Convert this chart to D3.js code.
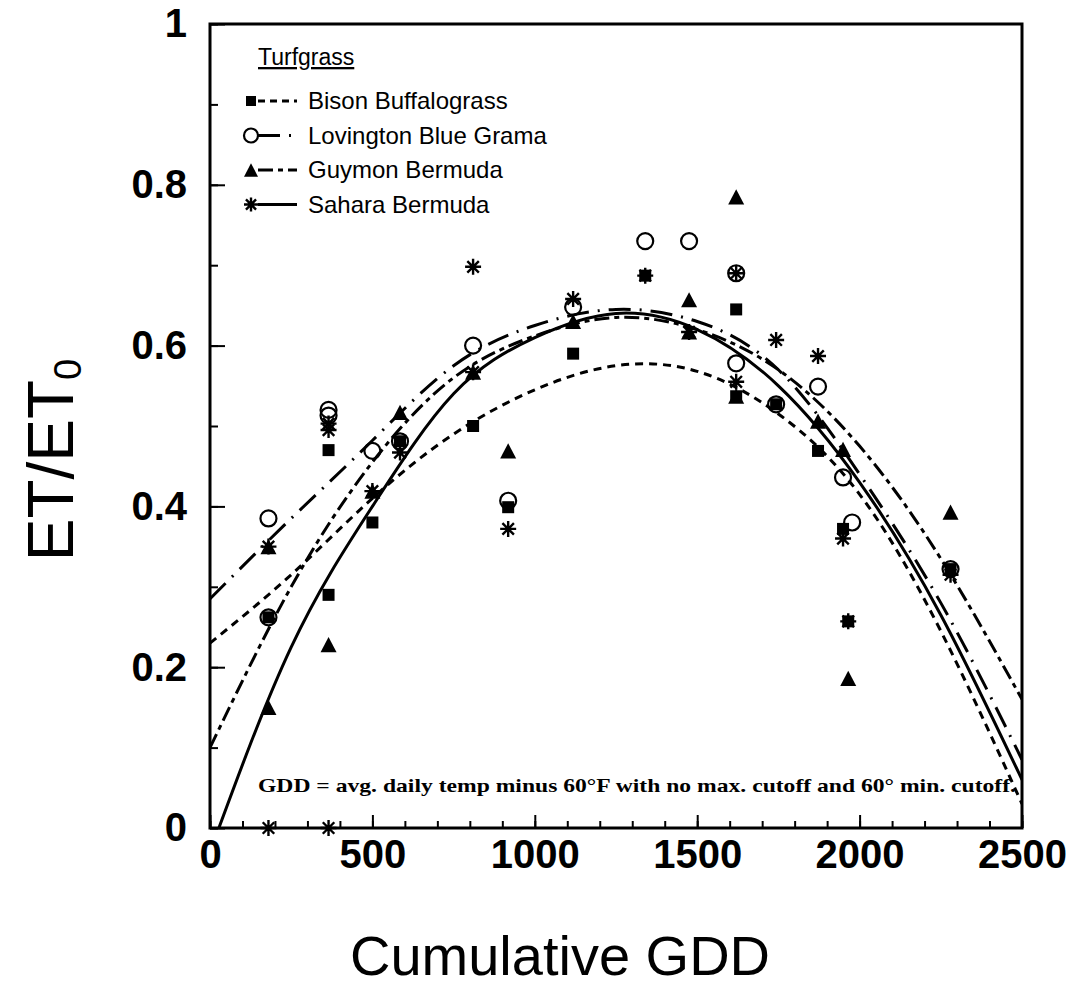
<!DOCTYPE html>
<html>
<head>
<meta charset="utf-8">
<script src="https://cdn.jsdelivr.net/npm/d3@7"></script>
<style>
  body { margin: 0; background: #fff; }
  svg { display: block; }
  .frame { fill: none; stroke: #000; stroke-width: 3; }
  .fit { fill: none; stroke: #000; stroke-width: 3; }
  text { fill: #000; }
</style>
</head>
<body>
<svg id="chart" width="1074" height="994"></svg>
<script>
const fitGDD = [0, 250, 500, 750, 1000, 1250, 1500, 1750, 2000, 2250, 2500];
const bisonFit = [0.23, 0.315, 0.41, 0.49, 0.545, 0.575, 0.568, 0.515, 0.415, 0.245, 0.03];
const lovingtonFit = [0.285, 0.385, 0.482, 0.575, 0.625, 0.645, 0.63, 0.57, 0.44, 0.28, 0.085];
const guymonFit = [0.10, 0.30, 0.455, 0.56, 0.612, 0.635, 0.62, 0.57, 0.475, 0.335, 0.16];
const saharaFit = [-0.03, 0.225, 0.40, 0.54, 0.61, 0.64, 0.62, 0.55, 0.43, 0.265, 0.06];

// observed points
const bisonX = [180, 365, 365, 500, 585, 810, 918, 1118, 1340, 1620, 1620, 1743, 1872, 1949, 1965, 2280];
const bisonY = [0.262, 0.47, 0.29, 0.38, 0.481, 0.50, 0.399, 0.59, 0.687, 0.645, 0.537, 0.527, 0.469, 0.372, 0.257, 0.322];
const lovingtonX = [180, 180, 365, 365, 500, 585, 810, 918, 1118, 1340, 1475, 1620, 1620, 1743, 1872, 1949, 1977, 2280];
const lovingtonY = [0.385, 0.262, 0.52, 0.513, 0.469, 0.481, 0.60, 0.407, 0.648, 0.73, 0.73, 0.69, 0.578, 0.527, 0.549, 0.436, 0.38, 0.322];
const guymonX = [180, 180, 365, 500, 585, 810, 918, 1118, 1475, 1475, 1620, 1620, 1872, 1949, 1965, 2280];
const guymonY = [0.35, 0.15, 0.228, 0.419, 0.517, 0.567, 0.469, 0.63, 0.657, 0.617, 0.785, 0.537, 0.506, 0.471, 0.186, 0.393];
const saharaX = [180, 180, 365, 365, 365, 500, 585, 810, 810, 918, 1118, 1340, 1475, 1620, 1620, 1743, 1872, 1949, 1965, 2280];
const saharaY = [0.35, 0.0, 0.503, 0.495, 0.0, 0.419, 0.467, 0.698, 0.567, 0.372, 0.658, 0.687, 0.617, 0.69, 0.555, 0.607, 0.587, 0.36, 0.257, 0.315];

const xMajorTicks = [0, 500, 1000, 1500, 2000, 2500];
const yMajorTicks = [0, 0.2, 0.4, 0.6, 0.8, 1];
const yTickLabels = ['0', '0.2', '0.4', '0.6', '0.8', '1'];

const series = [
  { name: 'Bison Buffalograss', xs: bisonX, ys: bisonY, fit: bisonFit, marker: 'square', dash: '8,6' },
  { name: 'Lovington Blue Grama', xs: lovingtonX, ys: lovingtonY, fit: lovingtonFit, marker: 'circle', dash: '22,9,2,9' },
  { name: 'Guymon Bermuda', xs: guymonX, ys: guymonY, fit: guymonFit, marker: 'triangle', dash: '15,5,5,5' },
  { name: 'Sahara Bermuda', xs: saharaX, ys: saharaY, fit: saharaFit, marker: 'star', dash: null },
];

const svg = d3.select('#chart');
const x = d3.scaleLinear().domain([0, 2500]).range([210, 1022]);
const y = d3.scaleLinear().domain([0, 1]).range([828, 24]);
const sans = '"Liberation Sans", Arial, Helvetica, sans-serif';

svg.append('defs').append('clipPath').attr('id', 'plot')
  .append('rect')
  .attr('x', x(0)).attr('y', y(1))
  .attr('width', x(2500) - x(0)).attr('height', y(0) - y(1));

// x axis ticks (inward)
const gx = svg.append('g').attr('transform', `translate(0,${y(0)})`);
gx.call(d3.axisBottom(x).tickValues(d3.range(0, 2501, 100)).tickSize(-7).tickFormat(''));
gx.append('g').call(d3.axisBottom(x).tickValues(xMajorTicks).tickSize(-13).tickPadding(12)
    .tickFormat(d3.format('d')))
  .call(g => g.selectAll('text').attr('font-family', sans).attr('font-weight', 'bold')
    .attr('font-size', 40).attr('fill', '#000'));
gx.selectAll('.domain').remove();
gx.selectAll('line').attr('stroke', '#000').attr('stroke-width', 2);

// y axis ticks (inward)
const gy = svg.append('g').attr('transform', `translate(${x(0)},0)`);
gy.call(d3.axisLeft(y).tickValues(d3.range(0, 1.001, 0.1)).tickSize(-8).tickFormat(''));
gy.append('g').call(d3.axisLeft(y).tickValues(yMajorTicks).tickSize(-15).tickPadding(23)
    .tickFormat((d, i) => yTickLabels[i]))
  .call(g => g.selectAll('text').attr('font-family', sans).attr('font-weight', 'bold')
    .attr('font-size', 40).attr('fill', '#000'));
gy.selectAll('.domain').remove();
gy.selectAll('line').attr('stroke', '#000').attr('stroke-width', 2);

svg.append('rect').attr('class', 'frame')
  .attr('x', x(0)).attr('y', y(1))
  .attr('width', x(2500) - x(0)).attr('height', y(0) - y(1));

// fitted curves
const line = d3.line()
  .x((d, i) => x(fitGDD[i]))
  .y(d => y(d))
  .curve(d3.curveNatural);

const curves = svg.append('g').attr('clip-path', 'url(#plot)');
series.forEach(s => {
  curves.append('path').attr('class', 'fit')
    .attr('stroke-dasharray', s.dash)
    .attr('d', line(s.fit));
});

// marker drawing
const drawMarker = (g, type, cx, cy, size) => {
  if (type === 'square') {
    g.append('rect').attr('x', cx - size / 2).attr('y', cy - size / 2)
      .attr('width', size).attr('height', size).attr('fill', '#000');
  } else if (type === 'circle') {
    g.append('circle').attr('cx', cx).attr('cy', cy).attr('r', size / 2)
      .attr('fill', 'none').attr('stroke', '#000').attr('stroke-width', 2.2);
  } else if (type === 'triangle') {
    const h = size * 0.95;
    g.append('path').attr('fill', '#000')
      .attr('d', `M${cx},${cy - h / 2} L${cx + size / 2},${cy + h / 2} L${cx - size / 2},${cy + h / 2} Z`);
  } else {
    const r = size / 2;
    const d = r * 0.72;
    g.append('path').attr('stroke', '#000').attr('stroke-width', 2.4).attr('fill', 'none')
      .attr('d', `M${cx},${cy - r} V${cy + r} M${cx - r},${cy} H${cx + r}
        M${cx - d},${cy - d} L${cx + d},${cy + d} M${cx - d},${cy + d} L${cx + d},${cy - d}`);
  }
};

const marks = svg.append('g');
series.forEach(s => {
  s.xs.forEach((gdd, i) => drawMarker(marks, s.marker, x(gdd), y(s.ys[i]), s.marker === 'square' ? 12 : 16));
});

// legend
const legend = svg.append('g').attr('font-family', sans);
legend.append('text').attr('x', 258).attr('y', 65).attr('font-size', 23)
  .attr('text-decoration', 'underline').text('Turfgrass');
series.forEach((s, i) => {
  const ly = 101 + i * 34.5;
  legend.append('line').attr('x1', 258).attr('x2', 297).attr('y1', ly).attr('y2', ly)
    .attr('stroke', '#000').attr('stroke-width', 3)
    .attr('stroke-dasharray', s.dash ? (i === 0 ? '7,5' : s.dash) : null);
  legend.append('rect').attr('x', 240).attr('y', ly - 12).attr('width', 18).attr('height', 24).attr('fill', '#fff');
  drawMarker(legend, s.marker, 251, ly, s.marker === 'square' ? 10 : 14);
  legend.append('text').attr('x', 308).attr('y', ly + 8).attr('font-size', 24).text(s.name);
});

// note
svg.append('text')
  .attr('x', 258).attr('y', 792)
  .attr('font-family', '"Liberation Serif", "Times New Roman", serif')
  .attr('font-weight', 'bold').attr('font-size', 19)
  .attr('textLength', 758).attr('lengthAdjust', 'spacingAndGlyphs')
  .text('GDD = avg. daily temp minus 60°F with no max. cutoff and 60° min. cutoff.');

// axis titles
svg.append('text')
  .attr('x', 560).attr('y', 975)
  .attr('text-anchor', 'middle')
  .attr('font-family', sans).attr('font-size', 56)
  .text('Cumulative GDD');

const yt = svg.append('text')
  .attr('transform', 'translate(73,460) rotate(-90)')
  .attr('text-anchor', 'middle')
  .attr('font-family', sans).attr('font-size', 64);
yt.append('tspan').text('ET/ET');
yt.append('tspan').attr('font-size', 38).attr('dy', 8).text('0');
</script>
</body>
</html>
